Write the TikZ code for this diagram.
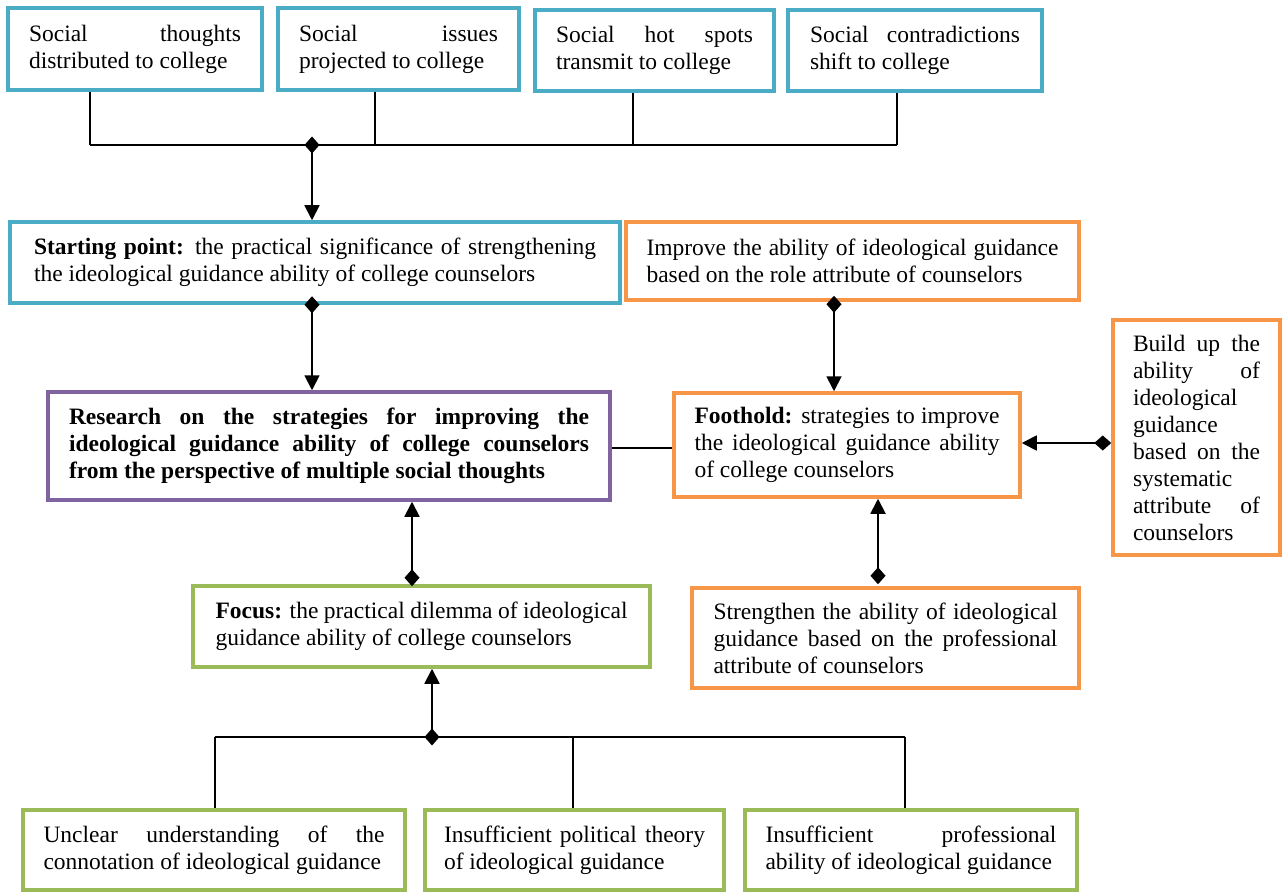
\documentclass[tikz,border=0pt]{standalone}
\usepackage{fontspec}
\setmainfont{Liberation Serif}
\usetikzlibrary{arrows.meta}
\definecolor{cblue}{HTML}{4BACC6}
\definecolor{corange}{HTML}{F79646}
\definecolor{cpurple}{HTML}{8064A2}
\definecolor{cgreen}{HTML}{9BBB59}
\hyphenpenalty=10000
\exhyphenpenalty=10000
\tolerance=10000
\begin{document}
\begin{tikzpicture}[x=1pt,y=-1pt,
  box/.style={draw, line width=3.5pt, align=justify, inner xsep=0pt, inner ysep=0pt,
    font=\fontsize{23.5}{27}\selectfont, anchor=center},
  bus/.style={line width=1.5pt, black},
  conn/.style={line width=1.8pt, black, {Diamond[length=17pt,width=15pt]}-{Triangle[length=15pt,width=15pt]}}
]
\useasboundingbox[fill=white] (0,0) rectangle (1282,893);

% top row
\node[box, draw=cblue, minimum width=254pt, minimum height=82pt, text width=212pt] (a1) at (135,49) {Social thoughts distributed to college};
\node[box, draw=cblue, minimum width=241pt, minimum height=82pt, text width=199pt] (a2) at (398.5,49) {Social issues projected to college};
\node[box, draw=cblue, minimum width=239pt, minimum height=81pt, text width=197pt] (a3) at (654.5,50.5) {Social hot spots transmit to college};
\node[box, draw=cblue, minimum width=254pt, minimum height=81pt, text width=210pt] (a4) at (915,50.5) {Social contradictions shift to college};

% middle
\node[box, draw=cblue, minimum width=610pt, minimum height=81pt, text width=562pt] (start) at (315,262.5) {\textbf{Starting point:} the practical significance of strengthening the ideological guidance ability of college counselors};
\node[box, draw=corange, minimum width=453pt, minimum height=78pt, text width=412pt] (improve) at (852.5,261) {Improve the ability of ideological guidance based on the role attribute of counselors};
\node[box, draw=cpurple, minimum width=562pt, minimum height=108pt, text width=520pt, font=\fontsize{23.5}{27}\selectfont\bfseries] (research) at (329,446) {Research on the strategies for improving the ideological guidance ability of college counselors from the perspective of multiple social thoughts};
\node[box, draw=corange, minimum width=346pt, minimum height=104pt, text width=305pt] (foothold) at (847,445) {\textbf{Foothold:} strategies to improve the ideological guidance ability of college counselors};
\node[box, draw=corange, minimum width=167pt, minimum height=235pt, text width=127pt] (build) at (1196.5,437.5) {Build up the ability of ideological guidance based on the systematic attribute of counselors};
\node[box, draw=cgreen, minimum width=457pt, minimum height=81pt, text width=412pt] (focus) at (421.5,626.5) {\textbf{Focus:} the practical dilemma of ideological guidance ability of college counselors};
\node[box, draw=corange, minimum width=387pt, minimum height=100pt, text width=344pt] (strength) at (885.5,638) {Strengthen the ability of ideological guidance based on the professional attribute of counselors};

% bottom row
\node[box, draw=cgreen, minimum width=382pt, minimum height=80pt, text width=341pt] (b1) at (214,850) {Unclear understanding of the connotation of ideological guidance};
\node[box, draw=cgreen, minimum width=299pt, minimum height=80pt, text width=261pt] (b2) at (574.5,850) {Insufficient political theory of ideological guidance};
\node[box, draw=cgreen, minimum width=332pt, minimum height=80pt, text width=291pt] (b3) at (911,850) {Insufficient professional\linebreak ability of ideological guidance};

% top bus
\coordinate (t1) at (90,145);
\coordinate (t2) at (375,145);
\coordinate (t3) at (633,145);
\coordinate (t4) at (897,145);
\coordinate (tc) at (312,145);
\draw[bus] (t1) -- (t4);
\draw[bus] (a1.south -| t1) -- (t1);
\draw[bus] (a2.south -| t2) -- (t2);
\draw[bus] (a3.south -| t3) -- (t3);
\draw[bus] (a4.south -| t4) -- (t4);
\draw[conn, shorten <=-8.5pt] (tc) -- (start.north -| tc);

% vertical links
\draw[conn, shorten <=-8.5pt] (start.south -| tc) -- (research.north -| tc);
\coordinate (ix) at (834,0);
\draw[conn, shorten <=-6pt] (improve.south -| ix) -- (foothold.north -| ix);
\coordinate (by) at (0,443);
\draw[conn] (build.west |- by) -- (foothold.east |- by);
\coordinate (fx) at (412,0);
\draw[conn, shorten <=-2pt] (focus.north -| fx) -- (research.south -| fx);
\coordinate (sx) at (878,0);
\draw[conn, shorten <=2pt] (strength.north -| sx) -- (foothold.south -| sx);
\coordinate (ry) at (0,448);
\draw[bus] (research.east |- ry) -- (foothold.west |- ry);

% bottom bus
\coordinate (u1) at (215,737);
\coordinate (u2) at (573,737);
\coordinate (u3) at (905,737);
\coordinate (uc) at (432,737);
\draw[bus] (u1) -- (u3);
\draw[bus] (u1) -- (b1.north -| u1);
\draw[bus] (u2) -- (b2.north -| u2);
\draw[bus] (u3) -- (b3.north -| u3);
\draw[conn, shorten <=-8.5pt] (uc) -- (focus.south -| uc);
\end{tikzpicture}
\end{document}
